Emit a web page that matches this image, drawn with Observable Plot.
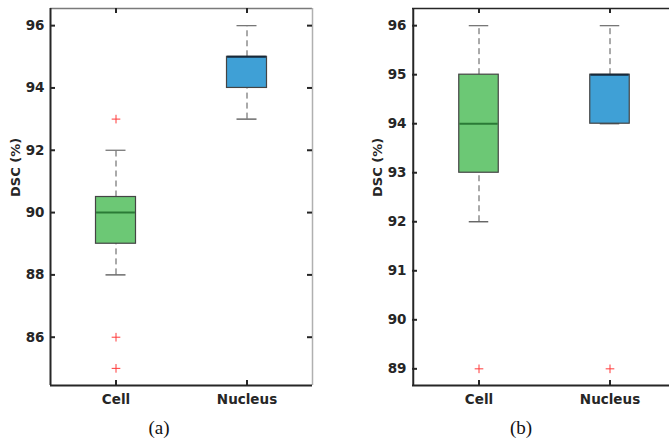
<!DOCTYPE html>
<html>
<head>
<meta charset="utf-8">
<script src="https://cdn.jsdelivr.net/npm/d3@7"></script>
<script src="https://cdn.jsdelivr.net/npm/@observablehq/plot@0.6"></script>
<style>
  html, body { margin: 0; padding: 0; background: #fff; }
  #root { position: relative; width: 669px; height: 439px; overflow: hidden; background: #fff; }
  .panel { position: absolute; top: 0; }
  .caption { position: absolute; font-family: "Liberation Serif", "Times New Roman", serif; font-size: 19px; color: #111; transform: translate(-50%, -50%); }
</style>
</head>
<body>
<div id="root"></div>
<script>
// ---- data ----
const categories = ["Cell", "Nucleus"];
const yLabel = "DSC (%)";
const captions = ["(a)", "(b)"];

// panel (a)
const aLow    = [88, 93];
const aQ1     = [89, 94];
const aMedian = [90, 95];
const aQ3     = [90.5, 95];
const aHigh   = [92, 96];
const aOutlierCats   = ["Cell", "Cell", "Cell"];
const aOutlierValues = [93, 86, 85];
const aTicks = [86, 88, 90, 92, 94, 96];

// panel (b)
const bLow    = [92, 94];
const bQ1     = [93, 94];
const bMedian = [94, 95];
const bQ3     = [95, 95];
const bHigh   = [96, 96];
const bOutlierCats   = ["Cell", "Nucleus"];
const bOutlierValues = [89, 89];
const bTicks = [89, 90, 91, 92, 93, 94, 95, 96];

// ---- styles ----
const boxFills = ["#6cc875", "#3fa0d6"];
const medianColors = ["#2a7a36", "#17293a"];
const fontFamily = "'DejaVu Sans', Verdana, sans-serif";

function panel({low, q1, median, q3, high, outCats, outVals, ticks, domain,
                width, height, marginLeft, marginRight, marginTop, marginBottom,
                topStroke, rightStroke}) {
  const rows = categories.map((c, i) => ({cat: c, low: low[i], q1: q1[i], median: median[i],
    q3: q3[i], high: high[i], fill: boxFills[i], med: medianColors[i]}));
  const outliers = outCats.map((c, i) => ({cat: c, value: outVals[i]}));
  const fw = width - marginLeft - marginRight;
  const fh = height - marginTop - marginBottom;
  const bw = fw / categories.length;
  const boxW = 40, capW = 20, tickLen = 5;
  const boxInset = (bw - boxW) / 2, capInset = (bw - capW) / 2;
  const dark = "#262626";
  return Plot.plot({
    width, height, marginLeft, marginRight, marginTop, marginBottom,
    style: {fontFamily, fontSize: "13.5px", fontWeight: "bold", color: dark, background: "white"},
    x: {type: "band", domain: categories, padding: 0, label: null},
    y: {domain, label: null},
    marks: [
      // frame edges
      Plot.ruleY([domain[1]], {stroke: topStroke, strokeWidth: 1.5}),
      Plot.ruleX([categories[categories.length - 1]], {dx: bw / 2, stroke: rightStroke, strokeWidth: 1.5}),
      // whiskers
      Plot.ruleX(rows, {x: "cat", y1: "q3", y2: "high", stroke: "#555", strokeWidth: 1, strokeDasharray: "6,4"}),
      Plot.ruleX(rows, {x: "cat", y1: "low", y2: "q1", stroke: "#555", strokeWidth: 1, strokeDasharray: "6,4"}),
      Plot.tickY(rows, {x: "cat", y: "high", stroke: "#777", strokeWidth: 1.3, insetLeft: capInset, insetRight: capInset}),
      Plot.tickY(rows, {x: "cat", y: "low", stroke: "#555", strokeWidth: 1.3, insetLeft: capInset, insetRight: capInset}),
      // boxes
      Plot.barY(rows, {x: "cat", y1: "q1", y2: "q3", fill: d => d.fill, stroke: "#444", strokeWidth: 1.2, insetLeft: boxInset, insetRight: boxInset}),
      Plot.tickY(rows, {x: "cat", y: "median", stroke: d => d.med, strokeWidth: 2, insetLeft: boxInset + 0.6, insetRight: boxInset + 0.6}),
      // outliers
      Plot.dot(outliers, {x: "cat", y: "value", symbol: "plus", r: 2.9, stroke: "#ff3b3b", strokeWidth: 1}),
      // inward ticks
      Plot.ruleY(ticks, {y: d => d, insetRight: fw - tickLen, stroke: dark, strokeWidth: 2}),
      Plot.ruleY(ticks, {y: d => d, insetLeft: fw - tickLen, stroke: dark, strokeWidth: 2}),
      Plot.ruleX(categories, {x: d => d, insetBottom: fh - tickLen, stroke: dark, strokeWidth: 2}),
      Plot.ruleX(categories, {x: d => d, insetTop: fh - tickLen, stroke: dark, strokeWidth: 2}),
      // left and bottom axis lines
      Plot.ruleY([domain[0]], {stroke: dark, strokeWidth: 2}),
      Plot.ruleX([categories[0]], {dx: -bw / 2, stroke: dark, strokeWidth: 2}),
      // axes
      Plot.axisY(ticks, {tickSize: 0, tickPadding: 6, fontSize: 13.5, fontWeight: "bold", fill: dark, label: null}),
      Plot.axisX({tickSize: 0, tickPadding: 9, fontSize: 13.5, fontWeight: "bold", fill: dark, label: null}),
      Plot.text([yLabel], {frameAnchor: "left", dx: -35, rotate: -90, fontSize: 13, fontWeight: "bold", fill: dark})
    ]
  });
}

const root = document.getElementById("root");

const pa = panel({low: aLow, q1: aQ1, median: aMedian, q3: aQ3, high: aHigh,
  outCats: aOutlierCats, outVals: aOutlierValues, ticks: aTicks, domain: [84.45, 96.55],
  width: 330, height: 410, marginLeft: 50, marginRight: 18, marginTop: 8, marginBottom: 25,
  topStroke: "#7a7a7a", rightStroke: "#b0b0b0"});
pa.classList.add("panel");
pa.style.left = "0px";
root.appendChild(pa);

const pb = panel({low: bLow, q1: bQ1, median: bMedian, q3: bQ3, high: bHigh,
  outCats: bOutlierCats, outVals: bOutlierValues, ticks: bTicks, domain: [88.66, 96.35],
  width: 345, height: 410, marginLeft: 72, marginRight: 10, marginTop: 8, marginBottom: 25,
  topStroke: "#262626", rightStroke: "#262626"});
pb.classList.add("panel");
pb.style.left = "340px";
root.appendChild(pb);

[[captions[0], 159], [captions[1], 521]].forEach(([t, x]) => {
  const d = document.createElement("div");
  d.className = "caption";
  d.textContent = t;
  d.style.left = x + "px";
  d.style.top = "428px";
  root.appendChild(d);
});
</script>
</body>
</html>
